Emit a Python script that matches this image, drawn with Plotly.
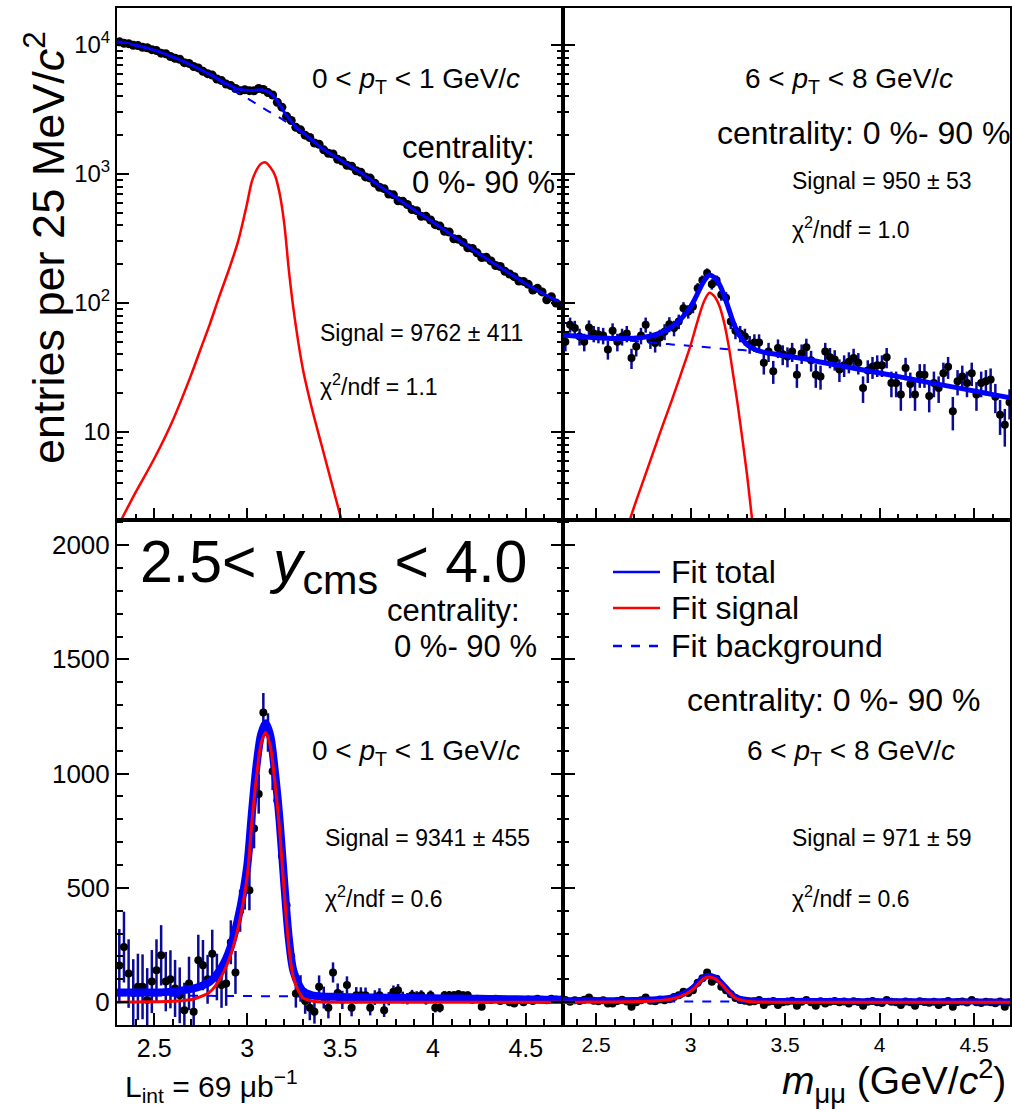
import numpy as np
import plotly.graph_objects as go

# ---------------- data ----------------
# 25 MeV bin centres (2.3125 ... 4.6875 GeV/c^2)
MASS = np.round(2.3125 + 0.025 * np.arange(96), 4)

# grids on which the fitted curves were read
FIT_M = [2.30, 2.40, 2.50, 2.60, 2.70, 2.75, 2.80, 2.85, 2.90, 2.95, 3.00, 3.025,
         3.05, 3.075, 3.10, 3.125, 3.15, 3.175, 3.20, 3.225, 3.25, 3.30, 3.35, 3.40,
         3.50, 3.60, 3.70, 3.80, 3.90, 4.00, 4.10, 4.20, 4.30, 4.40, 4.50, 4.60, 4.70]
BG_M = [2.3, 2.4, 2.5, 2.6, 2.7, 2.8, 2.9, 3.0, 3.1, 3.2, 3.3, 3.4, 3.5, 3.6, 3.7,
        3.8, 3.9, 4.0, 4.1, 4.2, 4.3, 4.4, 4.5, 4.6, 4.7]

# ---- top-left: 0<pT<1, raw spectrum (log) ----
TL_DATA = [10600, 10300, 10250, 9950, 9900, 9600, 9520, 9200, 9050, 8650,
           8550, 8150, 7900, 7750, 7300, 7200, 6820, 6650, 6250, 6000,
           5850, 5450, 5300, 4980, 4850, 4600, 4420, 4500, 4430, 4420,
           4600, 4520, 4280, 4100, 3600, 3300, 2800, 2600, 2300, 2200,
           2000, 1920, 1740, 1700, 1540, 1450, 1430, 1300, 1260, 1170,
           1150, 1060, 1030, 950, 930, 850, 790, 770, 700, 690,
           620, 615, 580, 530, 520, 470, 470, 440, 405, 395,
           360, 355, 315, 312, 295, 268, 265, 245, 225, 226,
           212, 195, 192, 176, 168, 160, 148, 147, 140, 126,
           130, 122, 106, 112, 100, 96]
TL_TOTAL = [10590, 9950, 9120, 8090, 7000, 6430, 5920, 5400, 4920, 4570, 4460, 4450,
            4480, 4500, 4420, 4230, 3900, 3450, 3020, 2690, 2430, 2090, 1840, 1600,
            1290, 1050, 832, 658, 527, 425, 337, 268, 215, 174, 141, 117, 98]
TL_SIG = [1.8, 3.4, 6.2, 12.3, 28, 44, 69, 112, 178, 295, 590, 870,
          1070, 1200, 1230, 1130, 980, 708, 412, 178, 89, 31, 15, 8,
          2.3, 0.7, 0.25, 0.1, 0.05, 0.05, 0.05, 0.05, 0.05, 0.05, 0.05, 0.05, 0.05]
TL_BG = [10590, 9950, 9115, 8080, 6975, 5850, 4740, 3870, 3160, 2595, 2060, 1592, 1288,
         1050, 832, 658, 527, 425, 337, 268, 215, 174, 141, 117, 98]

# ---- top-right: 6<pT<8, raw spectrum (log) ----
TR_DATA = [None, 50, 68, 64, 55, 50, 64.5, 58, 57, 56,
           43.7, 61, 50, 55, 58, 37.5, 46, 56, 68, 52,
           49, 54, 60, 68.5, 64, 72, 91, 86, 94, 130,
           150, 171, 140, 150, 116, 110, 72, 61, 58, 55,
           48, 49.5, 49.5, 34.4, 42, 29.6, 44.8, 40, 38.5, 42,
           27.8, 40.7, 45.5, 36, 27.8, 27, 42, 38, 36.5, 30.5,
           33, 35, 37.5, 34.4, 21.9, 30, 32, 33, 33, 38,
           24, 24, 19.5, 31.4, 23.6, 19.5, 27.8, 27.8, 19, 24,
           21.9, 28.6, 32, 14.5, 24.7, 27, 24, 28.6, 19.5, 24,
           24.7, 25.5, 18.8, 13.6, 11.4, 17]
TR_ERR = [0, 7.8, 9.1, 8.8, 8.2, 7.8, 8.8, 8.4, 8.3, 8.2,
          7.3, 8.6, 7.8, 8.2, 8.4, 6.7, 7.5, 8.2, 9.1, 7.9,
          7.7, 8.1, 8.5, 9.1, 8.8, 9.3, 10.5, 10.2, 10.7, 12.5,
          13.5, 14.4, 13.0, 13.5, 11.8, 11.5, 9.3, 8.6, 8.4, 8.2,
          7.6, 7.7, 7.7, 6.5, 7.1, 6.0, 7.4, 7.0, 6.8, 7.1,
          5.8, 7.0, 7.4, 6.6, 5.8, 5.7, 7.1, 6.8, 6.6, 6.1,
          6.3, 6.5, 6.7, 6.5, 5.1, 6.0, 6.2, 6.3, 6.3, 6.8,
          5.4, 5.4, 4.9, 6.2, 5.3, 4.9, 5.8, 5.8, 4.8, 5.4,
          5.1, 5.9, 6.2, 4.2, 5.5, 5.7, 5.4, 5.9, 4.9, 5.4,
          5.5, 5.6, 4.8, 4.1, 3.7, 4.5]
TR_TOTAL = [57.0, 55.3, 53.9, 53.1, 53.4, 54.2, 56.0, 59.5, 65.3, 75.6, 93.5, 109,
            130, 151.5, 165, 158, 141.5, 117, 91.8, 71.4, 59, 47.3, 43.0, 41.2,
            39.1, 37.0, 34.6, 32.5, 30.5, 28.7, 26.9, 25.2, 23.6, 22.2, 20.8, 19.5, 18.3]
TR_SIG = [0.05, 0.12, 0.3, 0.9, 2.6, 4.2, 6.8, 11, 17.5, 28.5, 47, 63,
          84, 106, 120, 113, 97, 73, 48, 28, 16, 4.5, 1.0, 0.25,
          0.02, 0.01, 0.01, 0.01, 0.01, 0.01, 0.01, 0.01, 0.01, 0.01, 0.01, 0.01, 0.01]
TR_BG = [57.0, 55.2, 53.6, 52.2, 50.8, 49.2, 47.8, 46.5, 45.2, 43.8, 42.8, 41.0, 39.1,
         37.0, 34.6, 32.5, 30.5, 28.7, 26.9, 25.2, 23.6, 22.2, 20.8, 19.5, 18.3]

# ---- bottom-left: 0<pT<1, background subtracted (linear) ----
BL_DATA = [160, 241, 125, 40, 67, 67, 9, 90, 140, 205,
           90, 100, 60, 30, -35, 82, -42, 183, 162, 100,
           212, 110, 75, 82, 262, 130, 400, 495, 490, 760,
           911, 1268, 1180, 1010, 882, 640, 424, 200, 38, 60,
           5, -25, -42, 67, 20, -25, 130, 40, 10, 75,
           -25, 30, 30, 30, -25, 20, 30, -35, 15, 45,
           52, 20, 15, 30, 25, 30, 10, 30, -25, -25,
           30, 30, 30, 35, 30, 30, 10, 15, -20, 10,
           9, 15, 5, 10, 0, -6, 8, 0, 12, 5,
           15, 10, 8, 15, 12, 10]
BL_ERR = [160, 155, 150, 148, 145, 142, 140, 138,
          135, 132, 130, 127, 125, 122, 120, 117,
          115, 112, 110, 107, 105, 102, 100, 98,
          96, 94, 92, 90, 88, 87, 86, 85,
          84, 82, 78, 74, 70, 66, 62, 58,
          56, 54, 52, 50, 48, 46, 44, 42,
          40, 38, 37, 36, 35, 34, 33, 32,
          31, 30, 29, 28, 27, 26, 25, 24,
          23, 22, 21, 21, 20, 20, 19, 19,
          18, 18, 17, 17, 16, 16, 15, 15,
          15, 14, 14, 14, 13, 13, 13, 12,
          12, 12, 12, 11, 11, 11, 11, 10]
BL_TOTAL = [42, 42, 42, 46, 58, 70, 90, 135, 215, 360, 590, 820,
            1030, 1170, 1220, 1165, 1005, 795, 520, 275, 135, 48, 30, 25,
            23, 21, 20, 19, 18, 17, 16, 15, 14, 13, 12, 11, 10]
BL_SIG = [0, 1, 2, 4, 12, 24, 45, 96, 180, 320, 545, 780,
          980, 1130, 1180, 1120, 960, 755, 480, 240, 105, 20, 5, 1,
          0, 0, 0, 0, 0, 0, 0, 0, 0, 0, 0, 0, 0]
BL_BG = [30, 29.5, 29, 28.5, 28, 27.5, 27, 26.5, 26, 25.5, 25, 24, 23, 21.5, 20.5,
         19.5, 18.5, 17.5, 16.5, 15.5, 14.5, 13.5, 12.5, 11.5, 10.5]

# ---- bottom-right: 6<pT<8, background subtracted (linear) ----
BR_DATA = [None, 9, 2, 8, 5, 10, 20, 6, 4, 8,
           -6, -6, 5, 10, 3, -20, 0, 8, 20, 6,
           4, 12, 8, 13, 22, 30, 45, 40, 52, 85,
           105, 130, 89, 102, 67, 52, 35, 18, 9, 6,
           2, 4, 9, -13, 2, 5, -13, 0, 3, 6,
           -16, 2, 9, 0, -16, 4, -6, 2, 5, 0,
           3, -6, 4, 1, -16, 2, 5, 0, -4, 9,
           2, 0, -13, 3, 0, -16, 4, 1, -3, 2,
           -13, 0, 5, -20, 1, 3, -2, 9, 0, -4,
           2, 0, -5, 3, -20, 0]
BR_TOTAL = [8, 8, 8, 8, 9, 10, 12, 15, 21, 32, 54, 72,
            94, 110, 115, 109, 95, 73, 50, 30, 18, 9, 6, 5,
            5, 5, 4.5, 4.5, 4, 4, 4, 3.5, 3.5, 3.5, 3, 3, 3]
BR_SIG = [0, 0, 0.5, 1, 2, 3, 5, 8, 14, 26, 48, 66,
          88, 105, 110, 104, 90, 68, 45, 25, 13, 4, 1, 0.3,
          0, 0, 0, 0, 0, 0, 0, 0, 0, 0, 0, 0, 0]
BR_BG = [3.5, 3.4, 3.3, 3.2, 3.1, 3.0, 2.9, 2.8, 2.7, 2.6, 2.5, 2.4, 2.3, 2.2, 2.1,
         2.0, 1.9, 1.8, 1.7, 1.6, 1.5, 1.4, 1.3, 1.2, 1.1]

# ---------------- styling ----------------
W, H = 1012, 1110
FONT = "Liberation Sans, Arial, Helvetica, sans-serif"
BLUE = "#0000FF"
RED = "#FF0000"
ERRC = "#0A0A96"


def px(x):
    return x / W


def py(y):
    return 1 - y / H


XL = [px(117), px(563)]
XR = [px(563), px(1010)]
YT = [py(520), py(8)]
YB = [py(1025), py(520)]

fig = go.Figure()


def add_panel(xa, ya, data, err, total, sig, bg, wt, ws, msize):
    errd = None
    if err is not None:
        errd = dict(type="data", array=err, color=ERRC, thickness=2.5, width=0)
    fig.add_trace(go.Scatter(x=MASS, y=data, mode="markers", xaxis=xa, yaxis=ya,
                             marker=dict(color="black", size=msize, line=dict(width=0)),
                             error_y=errd, showlegend=False))
    fig.add_trace(go.Scatter(x=BG_M, y=bg, mode="lines", xaxis=xa, yaxis=ya,
                             line=dict(color=BLUE, width=2, dash="dash", shape="spline"),
                             showlegend=False))
    fig.add_trace(go.Scatter(x=FIT_M, y=total, mode="lines", xaxis=xa, yaxis=ya,
                             line=dict(color=BLUE, width=wt, shape="spline", smoothing=0.8),
                             showlegend=False))
    fig.add_trace(go.Scatter(x=FIT_M, y=sig, mode="lines", xaxis=xa, yaxis=ya,
                             line=dict(color=RED, width=ws, shape="spline", smoothing=0.8),
                             showlegend=False))


add_panel("x", "y", TL_DATA, None, TL_TOTAL, TL_SIG, TL_BG, 3, 2.5, 9)
add_panel("x2", "y2", TR_DATA, TR_ERR, TR_TOTAL, TR_SIG, TR_BG, 5, 2.5, 8)
add_panel("x3", "y3", BL_DATA, BL_ERR, BL_TOTAL, BL_SIG, BL_BG, 8, 3, 8)
add_panel("x4", "y4", BR_DATA, None, BR_TOTAL, BR_SIG, BR_BG, 6, 3, 8)

common = dict(showline=True, linecolor="black", linewidth=2, ticks="inside",
              ticklen=12, tickwidth=1.5, tickcolor="black", showgrid=False,
              zeroline=False, tickfont=dict(family=FONT, color="black"))

xminor = dict(ticks="inside", ticklen=6, tickwidth=1.5, tickcolor="black",
              dtick=0.1, tick0=2.5, showgrid=False)
logminor = dict(ticks="inside", ticklen=6, tickwidth=1.5, tickcolor="black",
                tickmode="array",
                tickvals=[d * 10 ** e for e in range(0, 5) for d in range(2, 10)],
                showgrid=False)
linminor = dict(ticks="inside", ticklen=6, tickwidth=1.5, tickcolor="black",
                dtick=100, tick0=0, showgrid=False)

LOGR = [0.318, 4.287]
LINR = [-100, 2110]

fig.update_layout(
    width=W, height=H, margin=dict(l=0, r=0, t=0, b=0), autosize=False,
    paper_bgcolor="white", plot_bgcolor="white", showlegend=False,
    xaxis=dict(common, domain=XL, anchor="y", range=[2.3, 4.7], dtick=0.5, tick0=2.5,
               showticklabels=False, mirror=True, minor=xminor),
    xaxis2=dict(common, domain=XR, anchor="y2", range=[2.325, 4.69], dtick=0.5, tick0=2.5,
                showticklabels=False, mirror=True, minor=xminor),
    xaxis3=dict(common, domain=XL, anchor="y3", range=[2.3, 4.7], dtick=0.5, tick0=2.5,
                mirror=True, minor=xminor,
                tickfont=dict(family=FONT, color="black", size=25)),
    xaxis4=dict(common, domain=XR, anchor="y4", range=[2.325, 4.69], dtick=0.5, tick0=2.5,
                mirror=True, minor=xminor,
                tickfont=dict(family=FONT, color="black", size=21)),
    yaxis=dict(common, domain=YT, anchor="x", type="log", range=LOGR,
               tickmode="array", tickvals=[10, 100, 1000, 10000],
               ticktext=["10", "10<sup>2</sup>", "10<sup>3</sup>", "10<sup>4</sup>"],
               mirror="ticks", minor=logminor,
               tickfont=dict(family=FONT, color="black", size=24)),
    yaxis2=dict(common, domain=YT, anchor="x2", type="log", range=LOGR,
                tickmode="array", tickvals=[10, 100, 1000, 10000],
                showticklabels=False, mirror=True, minor=logminor),
    yaxis3=dict(common, domain=YB, anchor="x3", range=LINR, dtick=500, tick0=0,
                mirror="ticks", minor=linminor,
                tickfont=dict(family=FONT, color="black", size=26)),
    yaxis4=dict(common, domain=YB, anchor="x4", range=LINR, dtick=500, tick0=0,
                showticklabels=False, mirror=True, minor=linminor),
)

ann = []


def txt(x, y, s, size, anchor="left", angle=0):
    ann.append(dict(x=px(x), y=py(y), xref="paper", yref="paper", text=s,
                    showarrow=False, xanchor=anchor, yanchor="middle",
                    textangle=angle,
                    font=dict(family=FONT, size=size, color="black")))


PT01 = "0 &lt; <i>p</i><sub>T</sub> &lt; 1 GeV/<i>c</i>"
PT68 = "6 &lt; <i>p</i><sub>T</sub> &lt; 8 GeV/<i>c</i>"

# top-left
txt(310, 80, PT01, 28)
txt(400, 148, "centrality:", 31)
txt(410, 183, "0 %- 90 %", 31)
txt(318, 333, "Signal = 9762 ± 411", 23)
txt(318, 385, "χ<sup>2</sup>/ndf = 1.1", 23)
# top-right
txt(743, 80, PT68, 28)
txt(715, 133, "centrality: 0 %- 90 %", 32)
txt(790, 181, "Signal = 950 ± 53", 23)
txt(790, 228, "χ<sup>2</sup>/ndf = 1.0", 23)
# bottom-left
txt(138, 566, "2.5&lt; <i>y</i><sub>cms</sub> &lt; 4.0", 59)
txt(385, 610, "centrality:", 31)
txt(392, 646, "0 %- 90 %", 31)
txt(310, 752, PT01, 28)
txt(323, 838, "Signal = 9341 ± 455", 23)
txt(323, 897, "χ<sup>2</sup>/ndf = 0.6", 23)
# bottom-right
txt(669, 572, "Fit total", 32)
txt(669, 608, "Fit signal", 32)
txt(669, 646, "Fit background", 32)
txt(685, 700, "centrality: 0 %- 90 %", 32)
txt(745, 752, PT68, 28)
txt(790, 838, "Signal = 971 ± 59", 23)
txt(790, 897, "χ<sup>2</sup>/ndf = 0.6", 23)
# outer labels
txt(123, 1086, "L<sub>int</sub> = 69 μb<sup>−1</sup>", 30)
txt(1008, 1081, "<i>m</i><sub>μμ</sub> (GeV/<i>c</i><sup>2</sup>)", 39, anchor="right")
txt(45, 248, "entries per 25 MeV/<i>c</i><sup>2</sup>", 45, anchor="center", angle=-90)

fig.update_layout(annotations=ann)

# legend line samples
shapes = []
for yy, col, dash in [(572, BLUE, "solid"), (608, RED, "solid"), (646, BLUE, "dash")]:
    shapes.append(dict(type="line", xref="paper", yref="paper",
                       x0=px(613), x1=px(660), y0=py(yy), y1=py(yy),
                       line=dict(color=col, width=2.5, dash=dash)))
fig.update_layout(shapes=shapes)

fig.write_html("out.html")
